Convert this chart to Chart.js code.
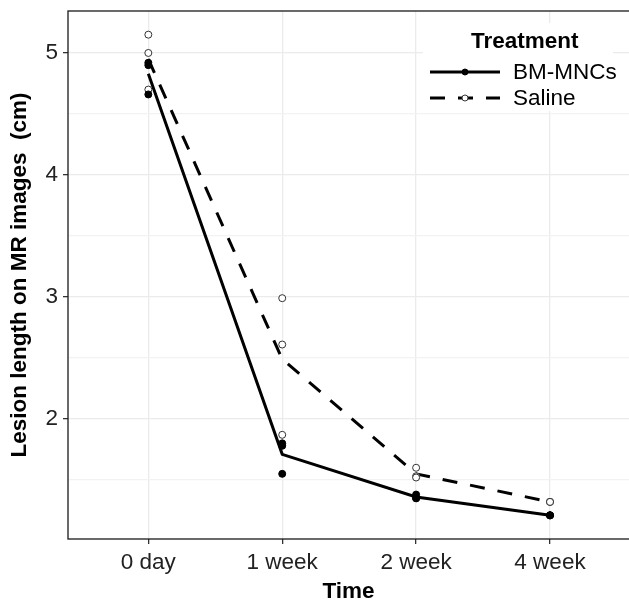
<!DOCTYPE html>
<html>
<head>
<meta charset="utf-8">
<script src="https://cdn.jsdelivr.net/npm/chart.js@4.4.0/dist/chart.umd.min.js"></script>
<style>
  html, body { margin: 0; padding: 0; background: #fff; }
  canvas { display: block; }
</style>
</head>
<body>
<canvas id="lesion" width="629" height="603"></canvas>
<script>
const timeLabels = ['0 day', '1 week', '2 week', '4 week'];
const bmMean = [4.83, 1.71, 1.36, 1.21];
const salineMean = [4.95, 2.49, 1.55, 1.32];
const bmObs = [[4.92, 4.90, 4.66], [1.80, 1.78, 1.55], [1.38, 1.35, 1.35], [1.21, 1.21, 1.21]];
const salineObs = [[5.15, 5.00, 4.70], [2.99, 2.61, 1.87], [1.60, 1.53, 1.52], [1.32, 1.32, 1.32]];
const yMajor = [2, 3, 4, 5];
const yMinor = [1.5, 2.5, 3.5, 4.5];

const FONT = "'Liberation Sans', Arial, Helvetica, sans-serif";
const FS = 22.5;
const DASH = [15, 13];

function toPoints(groups) {
    const pts = [];
    groups.forEach((vals, i) => vals.forEach(v => pts.push({ x: i, y: v })));
    return pts;
}

// panel border; right edge falls off the canvas like the original
const panelBorder = {
    id: 'panelBorder',
    beforeDatasetsDraw(chart) {
        const { ctx, chartArea: a } = chart;
        ctx.save();
        ctx.strokeStyle = '#1a1a1a';
        ctx.lineWidth = 1.3;
        ctx.strokeRect(a.left, a.top, a.right - a.left + 10, a.bottom - a.top);
        ctx.restore();
    }
};

// ggplot-like legend inside the panel
const treatmentLegend = {
    id: 'treatmentLegend',
    afterDraw(chart) {
        const { ctx, chartArea: a } = chart;
        const x0 = a.left + 355;
        ctx.save();
        ctx.fillStyle = '#fff';
        ctx.fillRect(x0, a.top + 12, 190, 88);

        ctx.fillStyle = '#000';
        ctx.textBaseline = 'middle';
        ctx.textAlign = 'left';
        ctx.font = 'bold ' + FS + 'px ' + FONT;
        ctx.fillText('Treatment', x0 + 48, a.top + 31);

        const entries = [chart.data.datasets[0], chart.data.datasets[1]];
        const pointSets = [chart.data.datasets[3], chart.data.datasets[2]];
        entries.forEach((ds, i) => {
            const y = a.top + 61 + i * 26;
            ctx.strokeStyle = ds.borderColor;
            ctx.lineWidth = ds.borderWidth;
            ctx.setLineDash(ds.borderDash || []);
            ctx.beginPath();
            ctx.moveTo(x0 + 7, y);
            ctx.lineTo(x0 + 77, y);
            ctx.stroke();
            ctx.setLineDash([]);
            const ps = pointSets[i];
            ctx.beginPath();
            ctx.arc(x0 + 42, y, 3, 0, Math.PI * 2);
            ctx.fillStyle = ps.backgroundColor;
            ctx.fill();
            ctx.lineWidth = 1;
            ctx.strokeStyle = ps.borderColor;
            ctx.stroke();
            ctx.fillStyle = '#000';
            ctx.font = FS + 'px ' + FONT;
            ctx.fillText(ds.label, x0 + 90, y + 1);
        });
        ctx.restore();
    }
};

new Chart(document.getElementById('lesion'), {
    type: 'scatter',
    data: {
        datasets: [
            {
                label: 'BM-MNCs',
                data: bmMean.map((y, i) => ({ x: i, y })),
                showLine: true,
                borderColor: '#000',
                borderWidth: 3,
                pointRadius: 0,
                order: 4
            },
            {
                label: 'Saline',
                data: salineMean.map((y, i) => ({ x: i, y })),
                showLine: true,
                borderColor: '#000',
                borderWidth: 3,
                borderDash: DASH,
                borderCapStyle: 'butt',
                pointRadius: 0,
                order: 3
            },
            {
                label: 'Saline obs',
                data: toPoints(salineObs),
                pointRadius: 3.5,
                pointBorderWidth: 1,
                borderColor: '#333',
                backgroundColor: '#fff',
                order: 2
            },
            {
                label: 'BM-MNCs obs',
                data: toPoints(bmObs),
                pointRadius: 3.5,
                pointBorderWidth: 1,
                borderColor: '#000',
                backgroundColor: '#000',
                order: 1
            }
        ]
    },
    options: {
        responsive: false,
        animation: false,
        devicePixelRatio: 1,
        layout: { autoPadding: false, padding: { left: 0, right: 0, top: 11, bottom: 0 } },
        plugins: {
            legend: { display: false },
            tooltip: { enabled: false }
        },
        scales: {
            x: {
                type: 'linear',
                min: -0.6,
                max: 3.59,
                afterBuildTicks: s => { s.ticks = timeLabels.map((_, i) => ({ value: i })); },
                afterFit: s => {
                    s.height = 64;
                    s.paddingLeft = 0;
                    s.paddingRight = 0;
                },
                ticks: {
                    callback: v => timeLabels[v],
                    autoSkip: false,
                    maxRotation: 0,
                    padding: 5,
                    color: '#222',
                    font: { family: FONT, size: FS }
                },
                grid: { color: '#ebebeb', lineWidth: 1.3, tickLength: 5, tickColor: '#333', tickWidth: 1.3 },
                border: { display: false },
                title: {
                    display: true,
                    text: 'Time',
                    color: '#000',
                    padding: { top: 0, bottom: 0 },
                    font: { family: FONT, size: FS, weight: 'bold', lineHeight: 1 }
                }
            },
            y: {
                type: 'linear',
                min: 1.016,
                max: 5.344,
                afterBuildTicks: s => {
                    s.ticks = yMinor.concat(yMajor).sort((a, b) => a - b).map(v => ({ value: v }));
                },
                afterFit: s => {
                    s.width = 68;
                    s.paddingTop = 0;
                    s.paddingBottom = 0;
                },
                ticks: {
                    callback: v => yMajor.includes(v) ? String(v) : '',
                    padding: 5,
                    color: '#222',
                    font: { family: FONT, size: FS }
                },
                grid: {
                    color: c => yMajor.includes(c.tick.value) ? '#ebebeb' : '#f2f2f2',
                    lineWidth: 1.3,
                    tickLength: 5,
                    tickWidth: 1.3,
                    tickColor: c => yMajor.includes(c.tick.value) ? '#333' : 'rgba(0,0,0,0)'
                },
                border: { display: false },
                title: {
                    display: true,
                    text: 'Lesion length on MR images  (cm)',
                    color: '#000',
                    padding: { top: 9, bottom: 0 },
                    font: { family: FONT, size: FS, weight: 'bold', lineHeight: 1 }
                }
            }
        }
    },
    plugins: [panelBorder, treatmentLegend]
});
</script>
</body>
</html>
